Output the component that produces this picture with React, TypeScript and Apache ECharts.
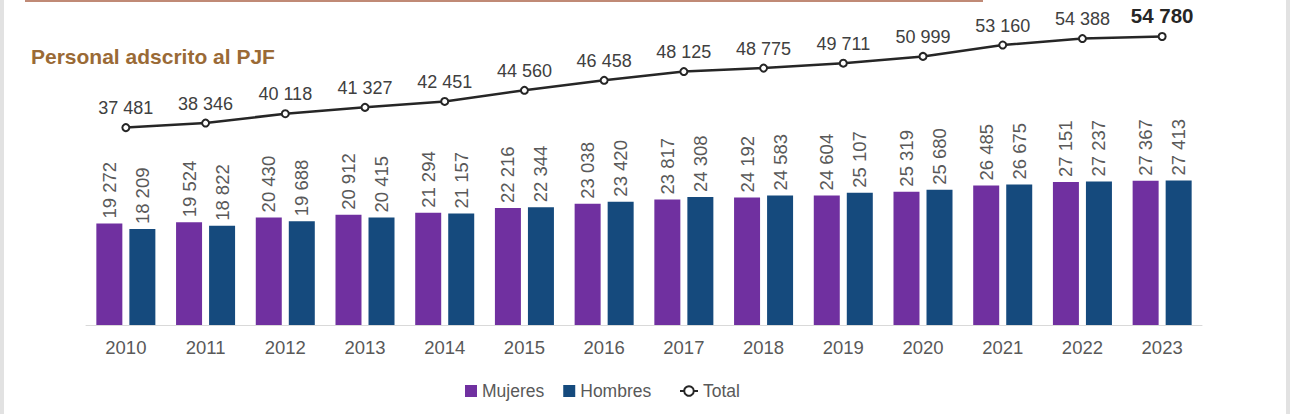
import React, { useEffect, useRef } from "react";
import * as echarts from "echarts";

const years = ["2010","2011","2012","2013","2014","2015","2016","2017","2018","2019","2020","2021","2022","2023"];
const mujeres = [19272, 19524, 20430, 20912, 21294, 22216, 23038, 23817, 24192, 24604, 25319, 26485, 27151, 27367];
const hombres = [18209, 18822, 19688, 20415, 21157, 22344, 23420, 24308, 24583, 25107, 25680, 26675, 27237, 27413];
const total = [37481, 38346, 40118, 41327, 42451, 44560, 46458, 48125, 48775, 49711, 50999, 53160, 54388, 54780];

const fmt = (v: number) => String(v).replace(/\B(?=(\d{3})+(?!\d))/g, " ");

export default function App() {
  const ref = useRef<HTMLDivElement>(null);
  useEffect(() => {
    const chart = echarts.init(ref.current!, null, { renderer: "svg" });
    const font = "Liberation Sans, Arial, sans-serif";
    const barLabel = {
      show: true,
      position: "top",
      rotate: 90,
      align: "left",
      verticalAlign: "middle",
      distance: 5,
      color: "#595959",
      fontSize: 18.5,
      fontFamily: font,
      formatter: (p: any) => fmt(p.value),
    };
    const legendText = { color: "#595959", fontSize: 17.5, fontFamily: font };
    chart.setOption({
      animation: false,
      backgroundColor: "#ffffff",
      textStyle: { fontFamily: font },
      graphic: [
        { type: "rect", shape: { x: 0, y: 0, width: 4, height: 414 }, style: { fill: "#e2e2e2" } },
        { type: "rect", shape: { x: 1286, y: 0, width: 4, height: 414 }, style: { fill: "#e2e2e2" } },
        { type: "rect", shape: { x: 25, y: 0, width: 958, height: 2 }, style: { fill: "#c08a76" } },
        {
          type: "text",
          left: 31,
          top: 46,
          style: { text: "Personal adscrito al PJF", fill: "#9a6a36", font: `bold 21px ${font}` },
        },
      ],
      legend: [
        {
          left: 460,
          top: 377,
          itemWidth: 12,
          itemHeight: 12,
          itemGap: 19,
          textStyle: legendText,
          data: [
            { name: "Mujeres", icon: "rect" },
            { name: "Hombres", icon: "rect" },
          ],
        },
        {
          left: 674,
          top: 377,
          itemWidth: 18,
          itemHeight: 12,
          textStyle: legendText,
          data: [{ name: "Total" }],
        },
      ],
      grid: { left: 86, right: 88, top: 9, bottom: 89 },
      xAxis: {
        type: "category",
        data: years,
        axisLine: { lineStyle: { color: "#d9d9d9", width: 1 } },
        axisTick: { show: false },
        axisLabel: { color: "#595959", fontSize: 18.5, margin: 13, fontFamily: font },
      },
      yAxis: {
        type: "value",
        min: 0,
        max: 60000,
        show: false,
        splitLine: { show: false },
      },
      series: [
        {
          name: "Mujeres",
          type: "bar",
          data: mujeres,
          barWidth: 26,
          barGap: "27%",
          itemStyle: { color: "#7030a0" },
          label: barLabel,
        },
        {
          name: "Hombres",
          type: "bar",
          data: hombres,
          barWidth: 26,
          itemStyle: { color: "#154a7d" },
          label: barLabel,
        },
        {
          name: "Total",
          type: "line",
          data: total.map((v, i) =>
            i === total.length - 1
              ? { value: v, label: { fontWeight: "bold", fontSize: 20.5, color: "#262626", distance: 6 } }
              : v
          ),
          symbol: "emptyCircle",
          symbolSize: 7,
          lineStyle: { color: "#262626", width: 2.5 },
          itemStyle: { color: "#262626", borderWidth: 1.5 },
          label: {
            show: true,
            position: "top",
            distance: 6,
            color: "#404040",
            fontSize: 18,
            fontFamily: font,
            formatter: (p: any) => fmt(p.value),
          },
          z: 5,
        },
      ],
    });
    return () => chart.dispose();
  }, []);
  return <div ref={ref} style={{ position: "fixed", left: 0, top: 0, width: 1290, height: 414 }} />;
}
